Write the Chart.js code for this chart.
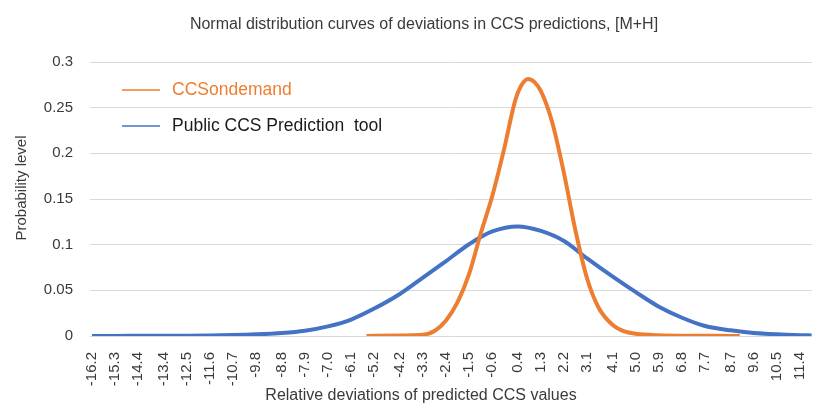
<!DOCTYPE html>
<html lang="en">
<head>
  <meta charset="UTF-8" />
  <title>Normal distribution curves of deviations in CCS predictions</title>
  <script src="https://cdn.jsdelivr.net/npm/chart.js"></script>
  <style>
    html, body { margin: 0; padding: 0; background: #fff; }
    #wrap { width: 826px; height: 405px; }
  </style>
  <script>
    // values
    const tickLabels = [
      "-16.2", "-15.3", "-14.4", "-13.4", "-12.5", "-11.6", "-10.7", "-9.8", "-8.8", "-7.9",
      "-7.0", "-6.1", "-5.2", "-4.2", "-3.3", "-2.4", "-1.5", "-0.6", "0.4", "1.3",
      "2.2", "3.1", "4.1", "5.0", "5.9", "6.8", "7.7", "8.7", "9.6", "10.5", "11.4"
    ];

    const publicX = [
      -16.2, -15.3, -14.4, -13.4, -12.5, -11.6, -10.7, -9.8, -8.8, -7.9,
      -7.0, -6.1, -5.2, -4.2, -3.3, -2.4, -1.5, -0.6, 0.4, 1.3,
      2.2, 3.1, 4.1, 5.0, 5.9, 6.8, 7.7, 8.7, 9.6, 10.5, 11.4, 11.86
    ];
    const publicY = [
      0.0001, 0.0001, 0.0002, 0.0003, 0.0004, 0.0006, 0.0010, 0.0018, 0.0033, 0.0058,
      0.0105, 0.0180, 0.030, 0.046, 0.064, 0.082, 0.1005, 0.1145, 0.120, 0.115,
      0.104, 0.085, 0.065, 0.048, 0.032, 0.020, 0.011, 0.0062, 0.0033, 0.0018, 0.0009, 0.0006
    ];

    const ondemandX = [
      -5.5, -4.2, -3.3, -2.85, -2.4, -1.95, -1.5, -1.05, -0.6, -0.15,
      0.3, 0.55, 0.8, 1.05, 1.3, 1.75, 2.2, 2.65, 3.1, 3.55,
      4.1, 4.55, 5.0, 5.9, 6.8, 7.7, 8.7, 9.05
    ];
    const ondemandY = [
      0.0, 0.0005, 0.0013, 0.0055, 0.017, 0.037, 0.068, 0.112, 0.153, 0.203,
      0.258, 0.275, 0.2815, 0.278, 0.268, 0.233, 0.178, 0.115, 0.063, 0.031,
      0.012, 0.005, 0.0025, 0.0008, 0.0003, 0.0002, 0.0001, 0.0001
    ];

    const chartTitle = "Normal distribution curves of deviations in CCS predictions, [M+H]";
    const xTitle = "Relative deviations of predicted CCS values";
    const yTitle = "Probability level";

    const textColor = '#3a3a3a';
    const fontFamily = '"Liberation Sans", Arial, sans-serif';

    // titles and the in-plot legend
    const textPlugin = {
      id: 'texts',
      afterDraw(chart) {
        const ctx = chart.ctx;
        ctx.save();
        ctx.fillStyle = textColor;
        ctx.textAlign = 'center';
        ctx.textBaseline = 'middle';
        ctx.font = '16px ' + fontFamily;
        ctx.fillText(chartTitle, 424, 25);
        ctx.fillText(xTitle, 421, 396);
        ctx.save();
        ctx.translate(22, 188);
        ctx.rotate(-Math.PI / 2);
        ctx.font = '15px ' + fontFamily;
        ctx.fillText(yTitle, 0, 0);
        ctx.restore();

        const rows = [90, 126];
        chart.data.datasets.forEach((ds, i) => {
          const y = rows[i];
          ctx.strokeStyle = ds.borderColor;
          ctx.lineWidth = 1.5;
          ctx.beginPath();
          ctx.moveTo(122, y);
          ctx.lineTo(160, y);
          ctx.stroke();
          ctx.textAlign = 'left';
          ctx.font = '17.5px ' + fontFamily;
          ctx.fillStyle = ds.legendText;
          ctx.fillText(ds.label, 172, y);
        });
        ctx.restore();
      }
    };

    window.onload = () => {
      const ctx = document.getElementById('ccsChart').getContext('2d');
      new Chart(ctx, {
        type: 'line',
        data: {
          datasets: [
            {
              label: 'CCSondemand',
              data: ondemandX.map((x, i) => ({ x: x, y: ondemandY[i] })),
              borderColor: '#ED7D31',
              legendText: '#ED7D31',
              borderWidth: 4,
              pointRadius: 0,
              cubicInterpolationMode: 'monotone'
            },
            {
              label: 'Public CCS Prediction  tool',
              data: publicX.map((x, i) => ({ x: x, y: publicY[i] })),
              borderColor: '#4472C4',
              legendText: '#1a1a1a',
              borderWidth: 4,
              pointRadius: 0,
              cubicInterpolationMode: 'monotone'
            }
          ]
        },
        options: {
          responsive: false,
          animation: false,
          layout: { padding: { top: 62, right: 1, left: 0, bottom: 0 } },
          plugins: {
            legend: { display: false },
            title: { display: false },
            tooltip: { enabled: false }
          },
          scales: {
            x: {
              type: 'linear',
              min: -16.28,
              max: 11.86,
              grid: { display: false },
              border: { display: false },
              afterBuildTicks: s => {
                s.ticks = tickLabels.map(t => ({ value: parseFloat(t) }));
              },
              afterFit: s => { s.height = 69; },
              ticks: {
                autoSkip: false,
                minRotation: 90,
                maxRotation: 90,
                padding: 8,
                color: textColor,
                font: { family: fontFamily, size: 15 },
                callback: (v, i) => tickLabels[i]
              }
            },
            y: {
              min: 0,
              max: 0.3,
              grid: { color: '#d9d9d9', drawTicks: false },
              border: { display: false },
              afterFit: s => { s.width = 90; },
              ticks: {
                stepSize: 0.05,
                padding: 17,
                color: textColor,
                font: { family: fontFamily, size: 15 },
                callback: v => String(+v.toFixed(2))
              }
            }
          }
        },
        plugins: [textPlugin]
      });
    };
  </script>
</head>
<body>
  <div id="wrap"><canvas id="ccsChart" width="826" height="405"></canvas></div>
</body>
</html>
